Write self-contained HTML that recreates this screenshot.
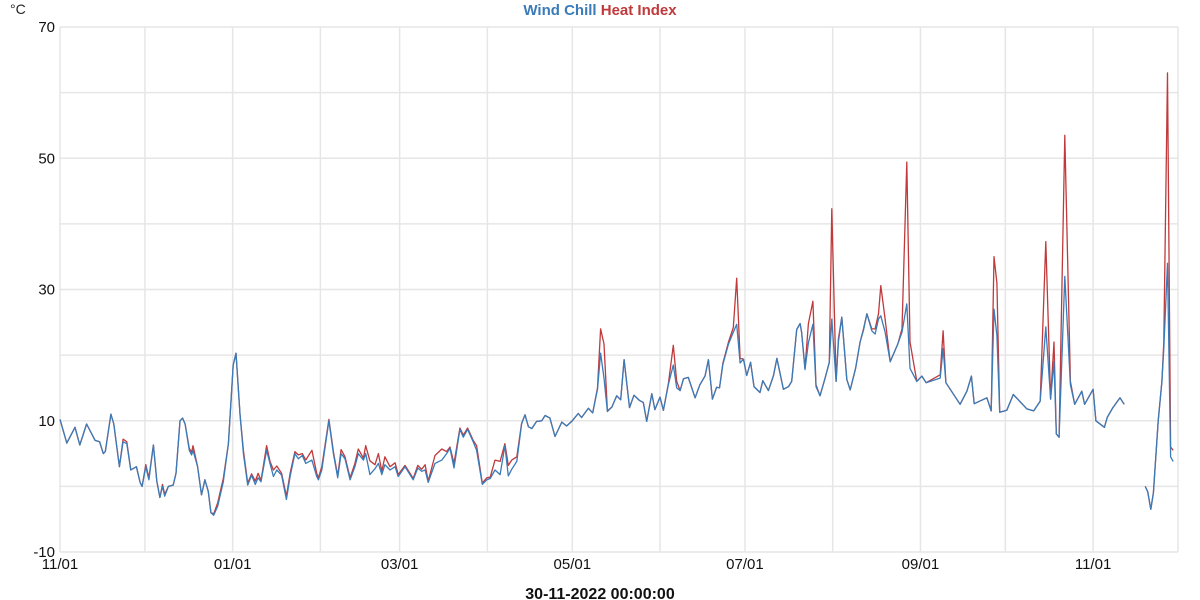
<!DOCTYPE html>
<html><head><meta charset="utf-8"><style>
body{margin:0;background:#fff;}
svg{display:block;font-family:"Liberation Sans",Arial,sans-serif;}
</style></head><body>
<svg id="chart" width="1200" height="600" viewBox="0 0 1200 600" xmlns="http://www.w3.org/2000/svg">
<g id="grid"></g>
<g id="yaxis"></g>
<g id="xaxis"></g>
<g id="series"></g>
<text x="10" y="14" font-size="14" fill="#222">°C</text>
<text x="600" y="15" text-anchor="middle" font-size="15" font-weight="bold"><tspan fill="#3a7bb8">Wind Chill</tspan> <tspan fill="#c0393b">Heat Index</tspan></text>
<text x="600" y="599" text-anchor="middle" font-size="16" font-weight="bold" fill="#111">30-11-2022 00:00:00</text>
</svg>
<script>
const days=[0,2.4,5.3,7,9.4,12.4,14,15.3,16,18,19,21,22.3,23.6,25,27,28.3,29,30.3,31.4,33,34.2,35.3,36.2,37,38.3,40,41,42.4,43.3,44.2,45.7,46.5,47,48.6,50,51.2,52.4,53.3,54.3,55.7,57.7,59.5,61.2,62.2,63.6,64.8,66.3,67.7,69,70,71,73,74.2,75.4,76.6,78.3,80,81.3,83,84.2,85.6,86.8,89,90.7,91.3,92.5,95,96.6,98.1,99.3,100.7,102.5,104.2,105.4,107.2,108,109.5,111.3,112.5,113.7,114.8,116.6,118.4,119.5,121.9,124.8,126.4,127.8,129,130.1,132.5,134.9,136.6,137.8,139.2,141.3,142.5,144,146,147.2,149.2,150.8,152,153.7,155.5,157.2,158.4,159.6,161.4,163.1,164.3,165.5,166.7,168.4,170.2,171.4,173.1,174.9,177.3,179,180.8,183.1,184.3,186.7,188.2,189.9,191,192.2,193.4,195,196.7,198.1,199.3,201.2,202.8,204.7,206.1,207.3,209.1,210.2,212,213.2,215,216.7,217.9,219.1,220.3,222,224.4,226.1,227.9,229.1,230.5,232,233,234.2,236.2,237.9,239.1,240.3,241.5,242.6,244,245.2,247.3,248.3,250.3,252.1,253.3,255.6,257.4,258.5,260.3,261.5,262,263.2,264.4,266,267.1,268.5,270.3,271.8,272.7,274.2,275,276.2,278,279.2,281.1,282.7,283.9,285.1,286.8,288,289.2,290,291.5,293.3,296,297.5,299.2,300.3,302.7,304.5,306,311,312,313,318,320.4,322,323,327.5,329,330,331,332,334.5,336.8,341.6,344,346.3,348.3,350,351.2,352,353,355,357,358.5,361,362,365,366,369,370,372,374.5,376,380,383.4,384.3,385.4,386.3,388,389.3,390,391.3,392.4,393.3];
const windChill=[10.2,6.6,9,6.3,9.5,7,6.8,5,5.3,11,9.5,3,6.8,6.5,2.5,3,0.6,0,3,1,6.3,0.8,-1.7,0,-1.5,0,0.2,2,10,10.4,9.5,5.5,4.8,5.5,3,-1.3,1,-0.8,-4,-4.4,-3,0.7,6.5,18.5,20.3,11,5,0.2,1.7,0.3,1.3,0.7,5.5,3.5,1.5,2.5,1.7,-2,1.5,5,4.2,4.7,3.5,4,1.5,1,2.5,10,5,1.3,5,4.2,1,3,5,4,5,1.8,2.7,3.5,1.8,3.3,2.5,3,1.5,3,1,2.8,2.3,2.5,0.6,3.5,4,5,5.8,2.8,8.7,7.5,8.7,6.8,5.5,0.3,1,1.2,2.5,1.8,6.2,1.6,2.6,3.8,9.5,10.9,9.1,8.8,9.9,10,10.8,10.4,7.6,9.8,9.2,9.9,11.1,10.5,11.9,11.2,14.8,20.3,16.5,11.4,12.1,13.8,13.2,19.3,12,13.9,13.1,12.8,9.9,14.1,11.7,13.6,11.6,15.6,18.5,15,14.6,16.4,16.6,13.5,15.5,16.8,19.3,13.3,15.1,15,18.6,21.7,23.5,24.7,18.8,19.4,16.9,18.9,15.2,14.3,16.1,14.6,16.9,19.5,14.8,15.2,16,23.9,24.8,23.5,17.8,21.9,24.7,15.2,13.8,16.5,18.9,25.5,16,22,25.8,16.3,14.7,18,22,23.8,26.3,23.7,23.2,25.5,26,23.5,19,21.7,23.5,27.8,18,16,16.8,15.8,16.5,21,15.8,12.5,14.5,16.8,12.6,13.5,11.5,27,23,11.3,11.6,14,11.8,11.5,13,24.3,13.3,19,8,7.5,32,15.5,12.5,14.5,12.5,14.8,10,9,10.5,12,13.5,12.5,null,0,-0.8,-3.5,-1,10,16,21,34,4.5,3.8];
const heatIndex=[10.2,6.6,9,6.3,9.5,7,6.8,5,5.3,11,9.5,3,7.2,6.8,2.5,3,0.6,0,3.3,1.3,6.3,0.8,-1.7,0.3,-1.2,0,0.2,2,10,10.4,9.5,5.8,5.2,6.2,3,-1.3,1,-0.8,-4,-4.2,-2.5,1.2,6.5,18.5,20.3,11,5.5,0.5,1.9,0.8,2,0.9,6.2,3.8,2.5,3.1,2,-1.5,2,5.3,4.8,5,4,5.5,2,1.3,3,10.2,5.3,1.6,5.6,4.5,1.3,3.5,5.7,4.3,6.2,3.9,3.3,5,2.3,4.5,3,3.6,1.8,3.2,1.2,3.2,2.6,3.3,0.8,4.7,5.7,5.3,6,3.5,8.9,7.8,8.9,7,6.2,0.5,1.3,1.4,4,3.8,6.5,3.2,4,4.5,9.6,10.9,9.1,8.8,9.9,10,10.8,10.4,7.6,9.8,9.2,9.9,11.1,10.5,11.9,11.2,15,24,21.7,11.5,12.1,13.8,13.2,19.3,12,13.9,13.1,12.8,9.9,14.1,11.7,13.6,11.6,15.8,21.5,16,14.6,16.4,16.6,13.5,15.5,16.8,19.3,13.3,15.1,15,18.8,22,24.2,31.7,19.5,19.4,16.9,18.9,15.2,14.3,16.1,14.6,16.9,19.5,14.8,15.2,16,23.9,24.8,23.5,18,24.8,28.2,15.5,13.8,16.5,18.9,42.3,16,22.5,25.8,16.3,14.7,18,22,24,26.3,24,24,26.3,30.6,25.5,19,21.7,24,49.4,22,16,16.8,15.8,17,23.7,15.8,12.5,14.5,16.8,12.6,13.5,11.5,35,31,11.3,11.6,14,11.8,11.5,13,37.3,13.3,22,8,7.5,53.5,16,12.5,14.5,12.5,14.8,10,9,10.5,12,13.5,12.5,null,0,-0.8,-3.5,-1,10,16,22,63,6,5.5];
const yTicks=[-10,0,10,20,30,40,50,60,70];
const yLabels=["-10","","10","","30","","50","","70"];
const monthDays=[0,30,61,92,120,151,181,212,242,273,304,334,365,395];
const monthLabels=["11/01","","01/01","","03/01","","05/01","","07/01","","09/01","","11/01",""];

const NS="http://www.w3.org/2000/svg";
const L=60,R=1178,T=27,B=552,D0=0,D1=395,V0=-10,V1=70;
const xs=d=>L+(d-D0)/(D1-D0)*(R-L);
const ys=v=>B-(v-V0)/(V1-V0)*(B-T);
function mk(tag,attrs,parent){const e=document.createElementNS(NS,tag);for(const k in attrs)e.setAttribute(k,attrs[k]);parent.appendChild(e);return e;}
const grid=document.getElementById('grid'),ya=document.getElementById('yaxis'),xa=document.getElementById('xaxis'),ser=document.getElementById('series');
yTicks.forEach((v,i)=>{
  const ln=mk('line',{x1:L,x2:R,y1:ys(v),y2:ys(v),stroke:'#e6e6e6','stroke-width':1.5},grid);
  
  
  if(yLabels[i]){
    const t=mk('text',{x:55,y:ys(v)+5,'text-anchor':'end','font-size':15,fill:'#111'},ya);
    t.textContent=yLabels[i];
    
    
  }
});
monthDays.forEach((d,i)=>{
  const ln=mk('line',{x1:xs(d),x2:xs(d),y1:T,y2:B,stroke:'#e6e6e6','stroke-width':1.5},grid);
  
  
  if(monthLabels[i]){
    const t=mk('text',{x:xs(d),y:569,'text-anchor':'middle','font-size':15,fill:'#111'},xa);
    t.textContent=monthLabels[i];
    
    
  }
});
function path(vals){
  let s='',pen=false;
  days.forEach((d,i)=>{const v=vals[i];if(v===null){pen=false;return;}s+=(pen?'L':'M')+xs(d).toFixed(1)+' '+ys(v).toFixed(1);pen=true;});
  return s;
}
const hi=mk('path',{d:path(heatIndex),fill:'none',stroke:'#c0393b','stroke-width':1.3,'stroke-linejoin':'round'},ser);


const wc=mk('path',{d:path(windChill),fill:'none',stroke:'#3a7bb8','stroke-width':1.3,'stroke-linejoin':'round'},ser);


</script>
</body></html>
